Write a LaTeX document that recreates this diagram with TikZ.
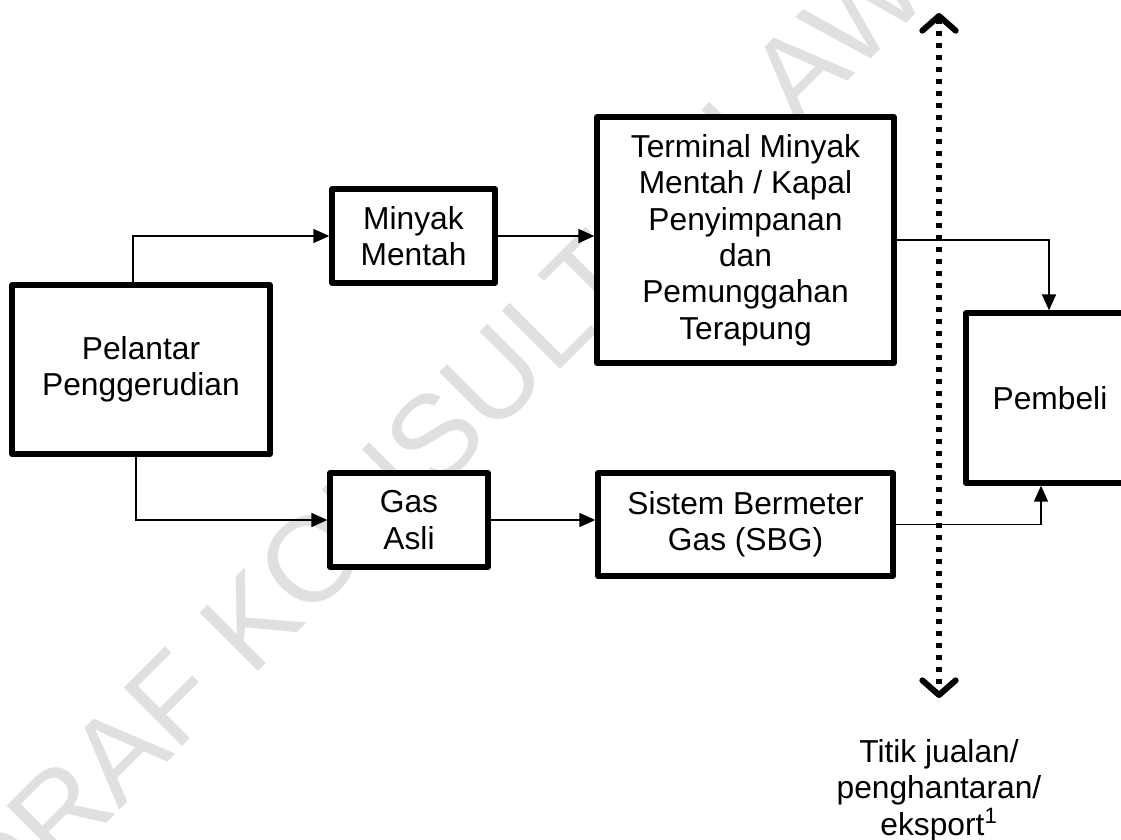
\documentclass[tikz,border=0pt]{standalone}
\usepackage{fontspec}
\setmainfont{Liberation Sans}
\usetikzlibrary{arrows.meta}
\begin{document}
\begin{tikzpicture}[x=0.75pt,y=-0.75pt,
  txt/.style={font=\fontsize{23.8pt}{27.3pt}\selectfont},
  box/.style={txt, draw, line width=4pt, fill=white, inner sep=0pt, align=center, line join=round},
  conn/.style={line width=1.2pt, -{Triangle[length=12pt,width=10.5pt]}},
  border/.style={line width=4pt, dash pattern=on 4pt off 5pt,
    {Straight Barb[length=11pt,width=25pt,line width=4.5pt,round]}-{Straight Barb[length=11pt,width=25pt,line width=4.5pt,round]}},
  lbl/.style={txt, align=center, inner sep=0pt},
  wmark/.style={rotate=45, text=black!12, font=\fontsize{90pt}{90pt}\selectfont, inner sep=0pt}]
\useasboundingbox (0,0) rectangle (1121,839);
\clip (0,0) rectangle (1121,839);
% watermark
\node[wmark] (wm) at (498,373) {DRAF KONSULTASI AWAM};
% boxes
\node[box, minimum width=193.5pt, minimum height=126.75pt] (P) at (141,369.5) {Pelantar\\Penggerudian};
\node[box, minimum width=122.25pt, minimum height=70.5pt] (MM) at (413.5,236) {Minyak\\Mentah};
\node[box, minimum width=118.5pt, minimum height=70.5pt] (GA) at (409,520) {Gas\\Asli};
\node[box, minimum width=222.75pt, minimum height=184.5pt] (T) at (745.5,240) {Terminal Minyak\\Mentah / Kapal\\Penyimpanan\\dan\\Pemunggahan\\Terapung};
\node[box, minimum width=221.25pt, minimum height=77.25pt] (SBG) at (745.5,524.5) {Sistem Bermeter\\Gas (SBG)};
\node[box, minimum width=126pt, minimum height=127.5pt] (PB) at (1050,398) {Pembeli};
% connectors
\draw[conn] ([xshift=-6pt]P.north) |- (MM.west);
\draw[conn] ([xshift=-3.75pt]P.south) |- (GA.west);
\draw[conn] (MM.east) -- (MM.east -| T.west);
\draw[conn] (GA.east) -- (GA.east -| SBG.west);
\draw[conn] (T.east) -| ([xshift=-0.75pt]PB.north);
\draw[conn] (SBG.east) -| ([xshift=-6.75pt]PB.south);
% sales point line
\coordinate (dt) at (939,13);
\coordinate (db) at (939,698);
\draw[border] (dt) -- (db);
\node[lbl, anchor=north] (tj) at (939,739) {Titik jualan/\\penghantaran/\\eksport\textsuperscript{1}};
\end{tikzpicture}
\end{document}
